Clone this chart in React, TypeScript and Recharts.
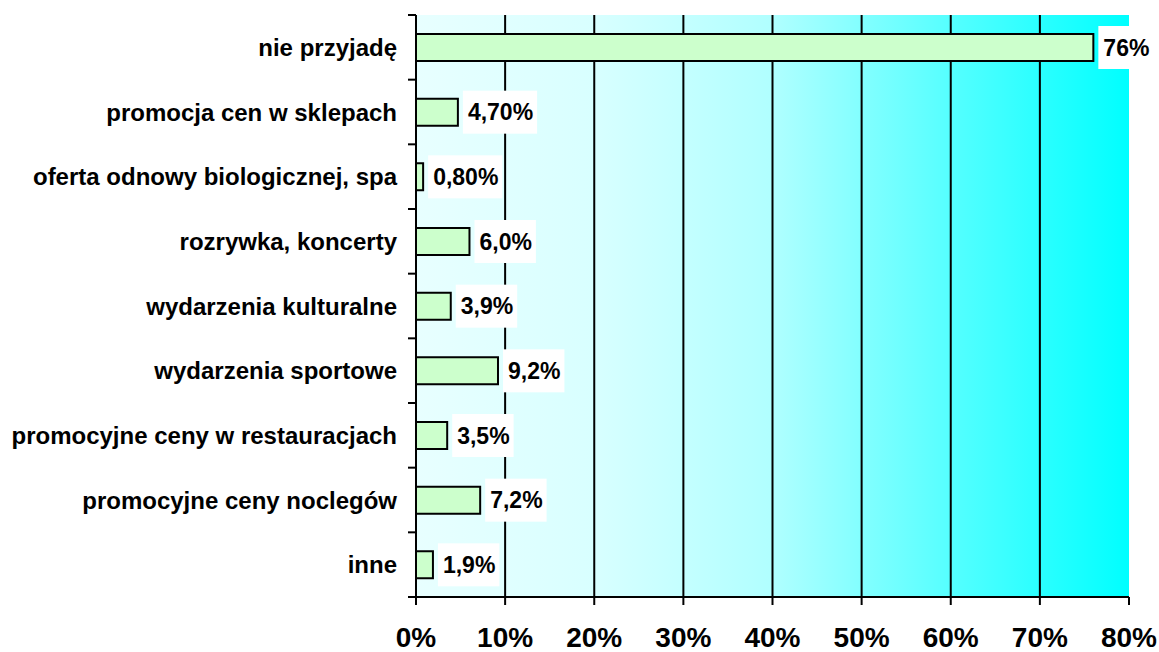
import { BarChart, Bar, XAxis, YAxis, CartesianGrid, LabelList } from 'recharts';

// categories, top to bottom
const categories = [
  'nie przyjadę',
  'promocja cen w sklepach',
  'oferta odnowy biologicznej, spa',
  'rozrywka, koncerty',
  'wydarzenia kulturalne',
  'wydarzenia sportowe',
  'promocyjne ceny w restauracjach',
  'promocyjne ceny noclegów',
  'inne',
];
const values = [76, 4.7, 0.8, 6.0, 3.9, 9.2, 3.5, 7.2, 1.9];
const valueLabels = ['76%', '4,70%', '0,80%', '6,0%', '3,9%', '9,2%', '3,5%', '7,2%', '1,9%'];
const xTicks = [0, 10, 20, 30, 40, 50, 60, 70, 80];
const gridTicks = [10, 20, 30, 40, 50, 60, 70];
const X_MAX = 80;

const data = categories.map((name, i) => ({ name, value: values[i], label: valueLabels[i] }));

const W = 1159;
const H = 652;
const M = { top: 15, right: 30, bottom: 0, left: 0 };
const Y_W = 416;
const X_H = 55;
const PLOT_H = H - M.top - M.bottom - X_H;
const STEP = PLOT_H / categories.length;
const FONT = '"Liberation Sans", Arial, sans-serif';

let ctx: CanvasRenderingContext2D | null = null;
function textWidth(s: string, size: number) {
  if (!ctx) ctx = document.createElement('canvas').getContext('2d');
  if (!ctx) return s.length * size * 0.55;
  ctx.font = `bold ${size}px ${FONT}`;
  return ctx.measureText(s).width;
}

function YTick(props: any) {
  const { x, y, payload, index } = props;
  const ax = Y_W;
  return (
    <g>
      <line x1={ax - 8} x2={ax} y1={y - STEP / 2} y2={y - STEP / 2} stroke="#000" strokeWidth={2} />
      {index === categories.length - 1 && (
        <line x1={ax - 8} x2={ax} y1={y + STEP / 2} y2={y + STEP / 2} stroke="#000" strokeWidth={2} />
      )}
      <text x={x} y={y} dy="0.36em" textAnchor="end" fontFamily={FONT} fontWeight="bold" fontSize={24} fill="#000">
        {payload.value}
      </text>
    </g>
  );
}

function ValueLabel(props: any) {
  const { x, y, width, height, value } = props;
  const size = 23;
  const tw = textWidth(String(value), size);
  const bx = Number(x) + Number(width) + 5;
  const cy = Number(y) + Number(height) / 2;
  return (
    <g>
      <rect x={bx} y={cy - 21.5} width={tw + 9} height={43} fill="#fff" />
      <text x={bx + 5} y={cy} dy="0.36em" fontFamily={FONT} fontWeight="bold" fontSize={size} fill="#000">
        {value}
      </text>
    </g>
  );
}

export default function App() {
  return (
    <div style={{ position: 'absolute', left: 0, top: 0, background: '#fff' }}>
      <BarChart width={W} height={H} data={data} layout="vertical" margin={M} barSize={27}>
        <defs>
          <linearGradient id="bg" x1="0" y1="0" x2="1" y2="0">
            <stop offset="0" stopColor="#e8ffff" />
            <stop offset="0.25" stopColor="#d8ffff" />
            <stop offset="0.5" stopColor="#b0ffff" />
            <stop offset="0.75" stopColor="#55ffff" />
            <stop offset="1" stopColor="#00ffff" />
          </linearGradient>
        </defs>
        <CartesianGrid
          horizontal={false}
          fill="url(#bg)"
          stroke="#000"
          strokeWidth={2}
          verticalCoordinatesGenerator={({ offset }: any) =>
            gridTicks.map((t) => offset.left + (t / X_MAX) * offset.width)
          }
        />
        <XAxis
          type="number"
          dataKey="value"
          domain={[0, X_MAX]}
          ticks={xTicks}
          interval={0}
          tickFormatter={(v) => `${v}%`}
          height={X_H}
          axisLine={{ stroke: '#000', strokeWidth: 2 }}
          tickLine={{ stroke: '#000', strokeWidth: 2 }}
          tickSize={8}
          tickMargin={22}
          tick={{ fill: '#000', fontSize: 28, fontWeight: 'bold', fontFamily: FONT }}
        />
        <XAxis
          xAxisId="top"
          orientation="top"
          type="number"
          domain={[0, X_MAX]}
          height={0}
          tick={false}
          tickLine={false}
          axisLine={{ stroke: '#808080', strokeWidth: 2 }}
        />
        <YAxis
          type="category"
          dataKey="name"
          width={Y_W}
          interval={0}
          axisLine={{ stroke: '#000', strokeWidth: 2 }}
          tickLine={false}
          tickSize={8}
          tickMargin={11}
          tick={<YTick />}
        />
        <YAxis
          yAxisId="right"
          orientation="right"
          type="number"
          domain={[0, 1]}
          width={0}
          tick={false}
          tickLine={false}
          axisLine={{ stroke: '#808080', strokeWidth: 2 }}
        />
        <Bar dataKey="value" fill="#ccffcc" stroke="#000" strokeWidth={2} isAnimationActive={false}>
          <LabelList dataKey="label" content={<ValueLabel />} />
        </Bar>
      </BarChart>
    </div>
  );
}
